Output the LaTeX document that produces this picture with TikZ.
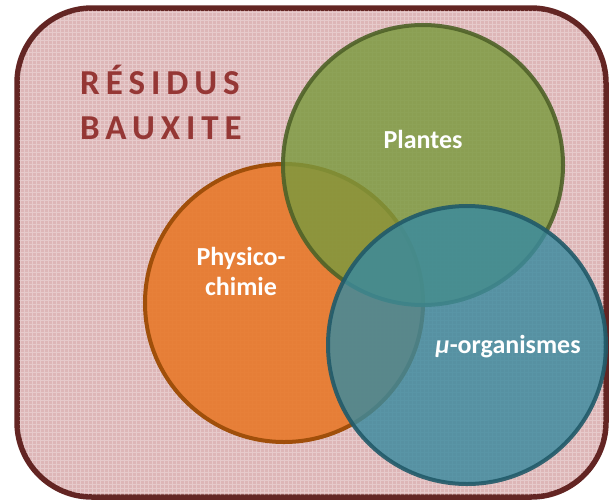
\documentclass[tikz,border=0pt]{standalone}
\usepackage{fontspec}
\setmainfont{Carlito}
\newfontfamily\titlefont[LetterSpace=17]{Carlito}
\definecolor{bgpink}{HTML}{DDB6B7}
\definecolor{frame}{HTML}{632523}
\definecolor{titlered}{HTML}{953735}
\definecolor{orfill}{HTML}{E8782A}
\definecolor{ordraw}{HTML}{A04F0A}
\definecolor{grfill}{HTML}{7A9A3E}
\definecolor{grdraw}{HTML}{4F6228}
\definecolor{tefill}{HTML}{3A8A9E}
\definecolor{tedraw}{HTML}{215A69}
\tikzset{
  circ/.style={circle, line width=4pt, fill opacity=0.82, draw opacity=0.9},
  lbl/.style={text=white, font=\bfseries\fontsize{26}{30}\selectfont, align=center},
}
\begin{document}
\begin{tikzpicture}[x=1pt,y=-1pt]
\useasboundingbox (0,0) rectangle (609,501);
\draw[line width=5.5pt, draw=frame, fill=bgpink, rounded corners=75pt] (17,8) rectangle (606,497);
\begin{scope}
\clip[rounded corners=75pt] (19,10) rectangle (604,495);
\draw[white, opacity=0.28, line width=1pt, step=4pt] (17,8) grid (606,497);
\end{scope}
\node[anchor=base west, text=titlered, font=\titlefont\bfseries\fontsize{35}{45}\selectfont, align=left, inner sep=0] (title) at (80,139) {RÉSIDUS\\BAUXITE};
\fill[orfill, fill opacity=0.9] (284,303) circle (139);
\draw[ordraw, line width=4pt] (284,303) circle (139);
\node[circ, fill=grfill, draw=grdraw, minimum size=280pt, inner sep=0] (plantes) at (423,165) {};
\node[circ, fill=tefill, draw=tedraw, minimum size=278pt, inner sep=0] (micro) at (467,345) {};
\node[lbl, anchor=base] (tpl) at (423,148) {Plantes};
\node[lbl, anchor=base] (tph) at (241,295) {Physico-\\chimie};
\node[lbl, anchor=base] (tmi) at (508,353) {\textit{µ}-organismes};
\end{tikzpicture}
\end{document}
